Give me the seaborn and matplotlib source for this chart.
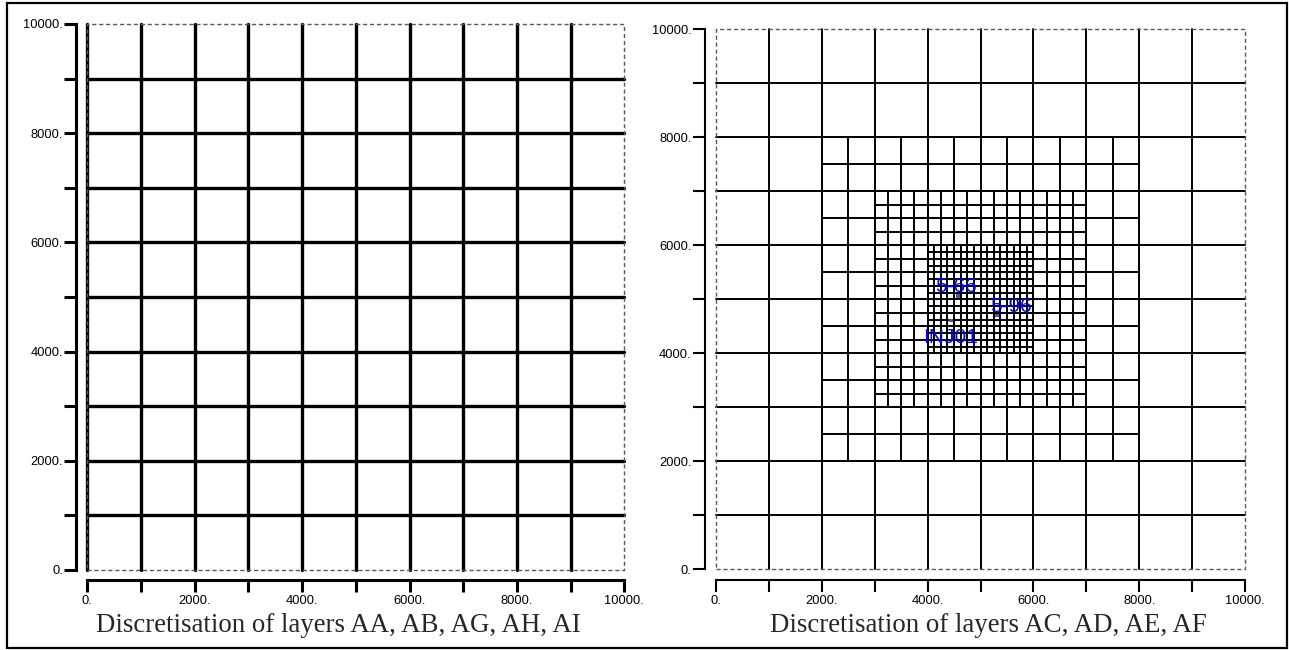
import numpy as np
import pandas as pd
import matplotlib
matplotlib.use('Agg')
import matplotlib.pyplot as plt
from matplotlib.patches import Rectangle
import seaborn as sns

sns.set_style('white')
plt.rcParams['font.family'] = ['Liberation Sans', 'DejaVu Sans']

# grid extent and tick labels
extent = [0, 10000]
tick_values = [0, 1000, 2000, 3000, 4000, 5000, 6000, 7000, 8000, 9000, 10000]
tick_labels = ['0.', '', '2000.', '', '4000.', '', '6000.', '', '8000.', '', '10000.']

# left panel: uniform 1000 m grid
left_lines = [0, 1000, 2000, 3000, 4000, 5000, 6000, 7000, 8000, 9000]

# right panel: nested refinement levels (region low, region high, spacing)
level_lo = [0, 2000, 3000, 4000]
level_hi = [10000, 8000, 7000, 6000]
level_step = [1000, 500, 250, 125]

# wells
well_names = ['5-66', '5-96', 'INJ01']
well_x = [4570, 5310, 4440]
well_y = [5065, 4700, 4605]

titles = ['Discretisation of layers AA, AB, AG, AH, AI',
          'Discretisation of layers AC, AD, AE, AF']


def segments(lines, lo, hi, start_id=0):
    rows = []
    seg = start_id
    for v in lines:
        rows += [(v, lo, seg), (v, hi, seg)]      # vertical
        seg += 1
        rows += [(lo, v, seg), (hi, v, seg)]      # horizontal
        seg += 1
    return rows, seg


# left frame lines: interior + left edge solid
rows = []
seg = 0
for v in left_lines:
    rows += [(v, extent[0], seg), (v, extent[1], seg)]
    seg += 1
    if v > extent[0]:
        rows += [(extent[0], v, seg), (extent[1], v, seg)]
        seg += 1
df_left = pd.DataFrame(rows, columns=['x', 'y', 'seg'])

rows = []
seg = 0
for lo, hi, st in zip(level_lo, level_hi, level_step):
    lines = [v for v in np.arange(lo, hi + 1, st) if extent[0] < v < extent[1]]
    r, seg = segments(lines, lo, hi, seg)
    rows += r
df_right = pd.DataFrame(rows, columns=['x', 'y', 'seg'])

df_wells = pd.DataFrame({'name': well_names, 'x': well_x, 'y': well_y})

W, H = 1289, 650
fig = plt.figure(figsize=(W / 100, H / 100), dpi=100)
axL = fig.add_axes([87.3 / W, 1 - 570 / H, 537 / W, 546 / H])
axR = fig.add_axes([716 / W, 1 - 569.3 / H, 529 / W, 540 / H])


def style_axes(ax, lw, off_y, off_x):
    ax.set_xlim(extent)
    ax.set_ylim(extent)
    for s in ['top', 'right']:
        ax.spines[s].set_visible(False)
    ax.spines['left'].set_position(('outward', off_y * 0.72))
    ax.spines['bottom'].set_position(('outward', off_x * 0.72))
    for s in ['left', 'bottom']:
        ax.spines[s].set_bounds(extent[0], extent[1])
        ax.spines[s].set_linewidth(lw)
        ax.spines[s].set_color('k')
    ax.set_xticks(tick_values)
    ax.set_xticklabels(tick_labels)
    ax.set_yticks(tick_values)
    ax.set_yticklabels(tick_labels)
    ax.tick_params(axis='both', direction='out', length=12 * 0.72, width=lw,
                   color='k', labelsize=9.3, labelcolor='k', bottom=True, left=True)
    ax.tick_params(axis='y', pad=1.0)
    ax.tick_params(axis='x', pad=2.2)
    ax.set_xlabel('')
    ax.set_ylabel('')
    for ln in ax.get_lines():
        ln.set_clip_on(False)
    # dashed outer boundary
    ax.plot([extent[0], extent[1], extent[1], extent[0], extent[0]],
            [extent[0], extent[0], extent[1], extent[1], extent[0]],
            ls=(0, (3, 2)), color='0.35', lw=1.0, clip_on=False, zorder=5)


sns.lineplot(data=df_left, x='x', y='y', units='seg', estimator=None, sort=False,
             color='k', lw=2.4, legend=False, ax=axL)
style_axes(axL, 2.2, 11, 10)

sns.lineplot(data=df_right, x='x', y='y', units='seg', estimator=None, sort=False,
             color='k', lw=1.4, legend=False, ax=axR)
sns.scatterplot(data=df_wells, x='x', y='y', marker='s', s=7, color='#4a5a9a',
                edgecolor='none', legend=False, ax=axR, zorder=6)
label_offsets = {'5-66': (-1.5, 2.7, 'center'), '5-96': (-5, 2.7, 'left'),
                 'INJ01': (-0.5, -16, 'center')}
for _, r in df_wells.iterrows():
    dx, dy, ha = label_offsets[r['name']]
    axR.annotate(r['name'], (r['x'], r['y']), xytext=(dx, dy), textcoords='offset points',
                 ha=ha, va='baseline', fontsize=15, color='#0000ff', zorder=7)
style_axes(axR, 1.5, 11, 11)

fig.text(338 / W, 1 - 632 / H, titles[0], ha='center', va='baseline',
         family=['Liberation Serif', 'DejaVu Serif'], fontsize=19.4)
fig.text(988 / W, 1 - 632 / H, titles[1], ha='center', va='baseline',
         family=['Liberation Serif', 'DejaVu Serif'], fontsize=19.4)

fig.add_artist(Rectangle((7 / W, 2 / H), (1287 - 7) / W, (647 - 2) / H,
                         transform=fig.transFigure, fill=False, lw=1.6, ec='k'))

fig.savefig('out.png', dpi=100)
